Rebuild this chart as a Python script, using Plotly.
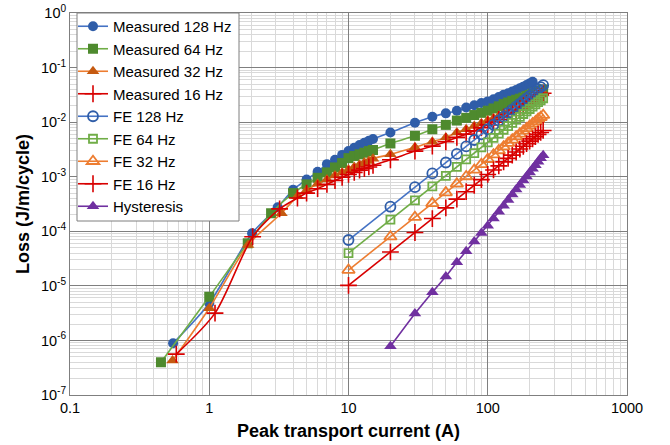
import plotly.graph_objects as go

# ---------------- data ----------------
m128_I = [0.55, 1.0, 2.03, 3.1, 4, 5, 6, 7, 8, 9, 10, 11, 12, 13, 14, 15, 20, 30, 40, 50,
          60, 70, 80, 90, 100, 110, 120, 130, 140, 150, 160, 170, 180, 190, 200, 210]
m128_L = [8.9e-7, 4.8e-6, 9.2e-5, 2.75e-4, 5.75e-4, 8.9e-4, 1.23e-3, 1.70e-3, 2.04e-3, 2.51e-3,
          2.95e-3, 3.39e-3, 3.80e-3, 4.17e-3, 4.57e-3, 4.90e-3, 6.46e-3, 9.77e-3, 1.26e-2, 1.45e-2,
          1.62e-2, 1.86e-2, 2.04e-2, 2.24e-2, 2.40e-2, 2.63e-2, 2.88e-2, 3.16e-2, 3.39e-2, 3.63e-2,
          3.89e-2, 4.17e-2, 4.47e-2, 4.79e-2, 5.13e-2, 5.50e-2]

m64_I = [0.45, 1.0, 1.89, 2.78, 4, 5, 6, 7, 8, 9, 10, 11, 12, 13, 14, 15, 20, 30, 40, 50,
         60, 70, 80, 90, 100, 110, 120, 130, 140, 150, 160, 170, 180, 190, 200, 210, 220, 230, 240, 250]
m64_L = [3.98e-7, 6.31e-6, 6.03e-5, 2.14e-4, 5.01e-4, 7.24e-4, 9.55e-4, 1.20e-3, 1.48e-3, 1.78e-3,
         2.19e-3, 2.40e-3, 2.57e-3, 2.75e-3, 2.95e-3, 3.09e-3, 4.07e-3, 5.62e-3, 7.41e-3, 8.91e-3,
         1.07e-2, 1.20e-2, 1.35e-2, 1.48e-2, 1.62e-2, 1.78e-2, 1.95e-2, 2.14e-2, 2.29e-2, 2.45e-2,
         2.57e-2, 2.69e-2, 2.82e-2, 3.02e-2, 3.16e-2, 3.31e-2, 3.47e-2, 3.63e-2, 3.80e-2, 3.98e-2]

m32_I = [0.545, 1.0, 1.9, 3.3, 4.3, 5, 6, 7, 8, 9, 10, 11, 12, 13, 14, 15, 20, 30, 40, 50,
         60, 70, 80, 90, 100, 110, 120, 130, 140, 150, 160, 170, 180, 190, 200, 210, 220, 230, 240, 250]
m32_L = [4.27e-7, 3.89e-6, 5.62e-5, 2.14e-4, 4.37e-4, 5.62e-4, 7.41e-4, 8.91e-4, 1.05e-3, 1.20e-3,
         1.35e-3, 1.51e-3, 1.66e-3, 1.82e-3, 1.95e-3, 2.14e-3, 2.57e-3, 3.47e-3, 4.37e-3, 5.25e-3,
         6.46e-3, 7.41e-3, 8.51e-3, 9.55e-3, 1.07e-2, 1.17e-2, 1.29e-2, 1.41e-2, 1.55e-2, 1.70e-2,
         1.82e-2, 2.00e-2, 2.14e-2, 2.29e-2, 2.45e-2, 2.63e-2, 2.82e-2, 3.02e-2, 3.24e-2, 3.47e-2]

m16_I = [0.58, 1.1, 2.05, 3.2, 4.3, 5, 6, 7, 8, 9, 10, 11, 12, 13, 14, 15, 20, 30, 40, 50,
         60, 70, 80, 90, 100, 110, 120, 130, 140, 150, 160, 170, 180, 190, 200, 210, 220, 230, 240, 250]
m16_L = [5.62e-7, 3.16e-6, 7.94e-5, 2.57e-4, 4.07e-4, 5.01e-4, 6.03e-4, 7.24e-4, 8.51e-4, 9.77e-4,
         1.10e-3, 1.20e-3, 1.32e-3, 1.41e-3, 1.51e-3, 1.62e-3, 2.04e-3, 2.95e-3, 3.63e-3, 4.37e-3,
         5.25e-3, 6.03e-3, 6.92e-3, 7.94e-3, 8.91e-3, 1.00e-2, 1.12e-2, 1.23e-2, 1.38e-2, 1.51e-2,
         1.66e-2, 1.82e-2, 2.00e-2, 2.19e-2, 2.34e-2, 2.57e-2, 2.75e-2, 2.95e-2, 3.16e-2, 3.39e-2]

fe_I = [10, 20, 30, 40, 50, 60, 70, 80, 90, 100, 110, 120, 130, 140, 150, 160, 170, 180, 190,
        200, 210, 220, 230, 240, 250]
fe128_L = [6.92e-5, 2.82e-4, 6.43e-4, 1.15e-3, 1.82e-3, 2.62e-3, 3.59e-3, 4.71e-3, 5.98e-3, 7.41e-3,
           8.97e-3, 1.07e-2, 1.26e-2, 1.47e-2, 1.69e-2, 1.92e-2, 2.17e-2, 2.44e-2, 2.73e-2, 3.03e-2,
           3.34e-2, 3.66e-2, 4.03e-2, 4.38e-2, 4.76e-2]
fe64_L = [3.98e-5, 1.63e-4, 3.70e-4, 6.64e-4, 1.04e-3, 1.51e-3, 2.07e-3, 2.71e-3, 3.44e-3, 4.27e-3,
          5.16e-3, 6.17e-3, 7.26e-3, 8.43e-3, 9.70e-3, 1.11e-2, 1.25e-2, 1.41e-2, 1.57e-2, 1.74e-2,
          1.92e-2, 2.11e-2, 2.32e-2, 2.52e-2, 2.74e-2]
fe32_L = [1.95e-5, 7.96e-5, 1.81e-4, 3.25e-4, 5.12e-4, 7.40e-4, 1.01e-3, 1.33e-3, 1.69e-3, 2.09e-3,
          2.53e-3, 3.02e-3, 3.56e-3, 4.13e-3, 4.75e-3, 5.42e-3, 6.12e-3, 6.89e-3, 7.69e-3, 8.53e-3,
          9.42e-3, 1.03e-2, 1.14e-2, 1.23e-2, 1.34e-2]
fe16_L = [1.02e-5, 4.18e-5, 9.51e-5, 1.71e-4, 2.69e-4, 3.88e-4, 5.31e-4, 6.97e-4, 8.85e-4, 1.10e-3,
          1.33e-3, 1.58e-3, 1.87e-3, 2.17e-3, 2.49e-3, 2.84e-3, 3.21e-3, 3.61e-3, 4.04e-3, 4.48e-3,
          4.94e-3, 5.42e-3, 5.96e-3, 6.47e-3, 7.05e-3]

hys_I = [20, 30, 40, 50, 60, 70, 80, 90, 100, 110, 120, 130, 140, 150, 160, 170, 180, 190,
         200, 210, 220, 230, 240, 250]
hys_L = [7.8e-7, 3.1e-6, 7.6e-6, 1.48e-5, 2.7e-5, 4.3e-5, 6.5e-5, 9.3e-5, 1.26e-4, 1.72e-4,
         2.27e-4, 2.95e-4, 3.76e-4, 4.7e-4, 5.8e-4, 7.06e-4, 8.5e-4, 1.01e-3, 1.20e-3, 1.40e-3,
         1.63e-3, 1.89e-3, 2.17e-3, 2.47e-3]

x_tickvals = [0.1, 1, 10, 100, 1000]
x_ticktext = ["0.1", "1", "10", "100", "1000"]
y_exps = [0, -1, -2, -3, -4, -5, -6, -7]

# ---------------- figure ----------------
fig = go.Figure()

def add(name, x, y, symbol, mcolor, lcolor, size, open_=False, cross=False, spline=False):
    if cross:
        marker = dict(symbol="cross-thin", size=size, line=dict(color=mcolor, width=1.6))
    elif open_:
        marker = dict(symbol=symbol + "-open", size=size, color=mcolor,
                      line=dict(color=mcolor, width=1.8))
    else:
        marker = dict(symbol=symbol, size=size, color=mcolor, line=dict(width=0))
    line = dict(color=lcolor, width=1.6)
    if spline:
        line.update(shape="spline", smoothing=0.8)
    fig.add_trace(go.Scatter(x=x, y=y, name=name, mode="lines+markers",
                             marker=marker, line=line))

BLUE_M, BLUE_L = "#2F5DA8", "#4472C4"
GREEN_M, GREEN_L = "#4E8A2E", "#70AD47"
ORANGE_M, ORANGE_L = "#C55A11", "#ED7D31"
RED = "#D80000"
PURPLE = "#7030A0"

add("Measured 128 Hz", m128_I, m128_L, "circle", BLUE_M, BLUE_L, 10, spline=True)
add("Measured 64 Hz", m64_I, m64_L, "square", GREEN_M, GREEN_L, 10, spline=True)
add("Measured 32 Hz", m32_I, m32_L, "triangle-up", ORANGE_M, ORANGE_L, 11, spline=True)
add("Measured 16 Hz", m16_I, m16_L, None, RED, RED, 12, cross=True, spline=True)
add("FE 128 Hz", fe_I, fe128_L, "circle", BLUE_M, BLUE_L, 10, open_=True)
add("FE 64 Hz", fe_I, fe64_L, "square", GREEN_L, GREEN_L, 8, open_=True)
add("FE 32 Hz", fe_I, fe32_L, "triangle-up", ORANGE_L, ORANGE_L, 11, open_=True)
add("FE 16 Hz", fe_I, fe16_L, None, RED, RED, 12, cross=True)
add("Hysteresis", hys_I, hys_L, "triangle-up", PURPLE, PURPLE, 11)

FONT = "Liberation Sans, Arial, sans-serif"

# plot area in pixels: x 70..627, y 13..395
fig.update_layout(
    width=670, height=445,
    margin=dict(l=70, r=43, t=13, b=50, autoexpand=False),
    paper_bgcolor="white", plot_bgcolor="white",
    font=dict(family=FONT, size=14, color="#000000"),
    showlegend=True,
    legend=dict(x=(73 - 70) / 557, y=1 + 3 / 382, xanchor="left", yanchor="top",
                bgcolor="rgba(0,0,0,0)", borderwidth=0,
                font=dict(size=15, family=FONT), tracegroupgap=0,
                itemwidth=30),
    shapes=[dict(type="rect", xref="paper", yref="paper", layer="above",
                 x0=(77 - 70) / 557, x1=(239 - 70) / 557,
                 y0=(395 - 221) / 382, y1=1.0,
                 fillcolor="white", line=dict(color="#7F7F7F", width=1))],
    xaxis=dict(
        type="log", range=[-1, 3], automargin=False,
        tickvals=x_tickvals, ticktext=x_ticktext,
        showgrid=True, gridcolor="#7F7F7F", gridwidth=1,
        minor=dict(dtick="D1", showgrid=True, gridcolor="#D9D9D9", gridwidth=1, ticks=""),
        showline=True, linecolor="#7F7F7F", linewidth=1, mirror=True,
        ticks="", zeroline=False,
        tickfont=dict(size=14.5, family=FONT),
        title=dict(text="<b>Peak transport current (A)</b>", standoff=8,
                   font=dict(size=18, family=FONT)),
    ),
    yaxis=dict(
        type="log", range=[-7, 0], automargin=False,
        tickvals=[10.0 ** e for e in y_exps],
        ticktext=["10<sup>%d</sup>" % e for e in y_exps],
        showgrid=True, gridcolor="#7F7F7F", gridwidth=1,
        minor=dict(dtick="D1", showgrid=True, gridcolor="#D9D9D9", gridwidth=1, ticks=""),
        showline=True, linecolor="#7F7F7F", linewidth=1, mirror=True,
        ticks="", zeroline=False,
        tickfont=dict(size=14.5, family=FONT),
        title=dict(text="<b>Loss (J/m/cycle)</b>", standoff=6,
                   font=dict(size=18, family=FONT)),
    ),
)

fig.write_html("out.html")
